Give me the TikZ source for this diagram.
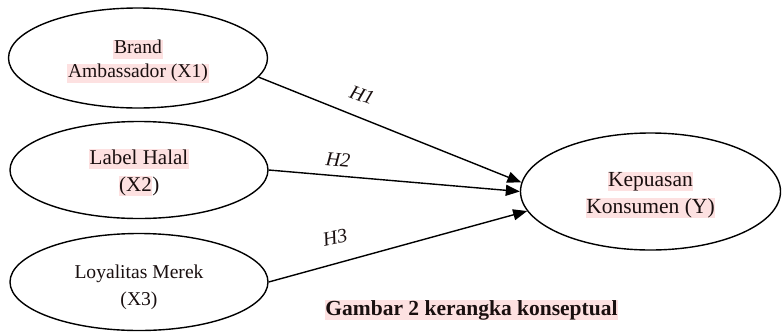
\documentclass[tikz,border=0pt]{standalone}
\usepackage{fontspec}
\setmainfont{Liberation Serif}
\usetikzlibrary{shapes.geometric,arrows.meta}
\definecolor{hlpink}{RGB}{253,225,225}
\definecolor{inkc}{RGB}{25,15,15}
\newcommand{\hlbox}[1]{{\setlength{\fboxsep}{0.6pt}\colorbox{hlpink}{\rule[-4.5pt]{0pt}{16.5pt}#1}}}
\newcommand{\lowerby}[1]{\rule{0pt}{\dimexpr 12.6pt + 2\dimexpr #1\relax\relax}}
\tikzset{
  latent/.style={ellipse, draw=black, line width=1.4pt, inner sep=0pt, align=center, text=inkc},
  hyp/.style={font=\itshape\fontsize{20}{24}\selectfont, text=inkc, inner sep=0pt},
  linkarrow/.style={draw=black, line width=1.4pt, -{Triangle[length=14pt,width=11pt]}}
}
\begin{document}
\begin{tikzpicture}[x=1pt,y=-1pt]
\useasboundingbox (0,0) rectangle (782,333);
\node[latent, font=\fontsize{19.6}{24}\selectfont, minimum width=259pt, minimum height=100pt] (x1) at (138,58) {\lowerby{4pt}\hlbox{Brand}\\\hlbox{Ambassador (X1)}};
\node[latent, font=\fontsize{21}{27}\selectfont, minimum width=258pt, minimum height=97pt] (x2) at (139,170) {\lowerby{4pt}\hlbox{Label Halal}\\\hlbox{(X2}\rule[-4.5pt]{0pt}{16.5pt})};
\node[latent, font=\fontsize{19.6}{27}\selectfont, minimum width=258pt, minimum height=97pt] (x3) at (139,282) {\lowerby{5.5pt}\rule[-4.5pt]{0pt}{16.5pt}Loyalitas Merek\\\rule[-4.5pt]{0pt}{16.5pt}(X3)};
\node[latent, font=\fontsize{21.5}{27}\selectfont, minimum width=260pt, minimum height=117pt] (y) at (650.5,191.5) {\lowerby{4.5pt}\hlbox{Kepuasan}\\\hlbox{Konsumen (Y)}};
\draw[linkarrow] (x1.-9.5) -- (y.176);
\draw[linkarrow] (x2.east) -- (y.west);
\draw[linkarrow] (x3.east) -- (y.189);
\node[hyp, rotate=-20] (h1) at (362,95) {H1};
\node[hyp, rotate=-5] (h2) at (338,160) {H2};
\node[hyp, rotate=12] (h3) at (335,238) {H3};
\node[font=\bfseries\fontsize{21.5}{26}\selectfont, text=inkc, inner sep=0pt] (cap) at (471.5,310) {\hlbox{Gambar 2 kerangka konseptual}};
\end{tikzpicture}
\end{document}
